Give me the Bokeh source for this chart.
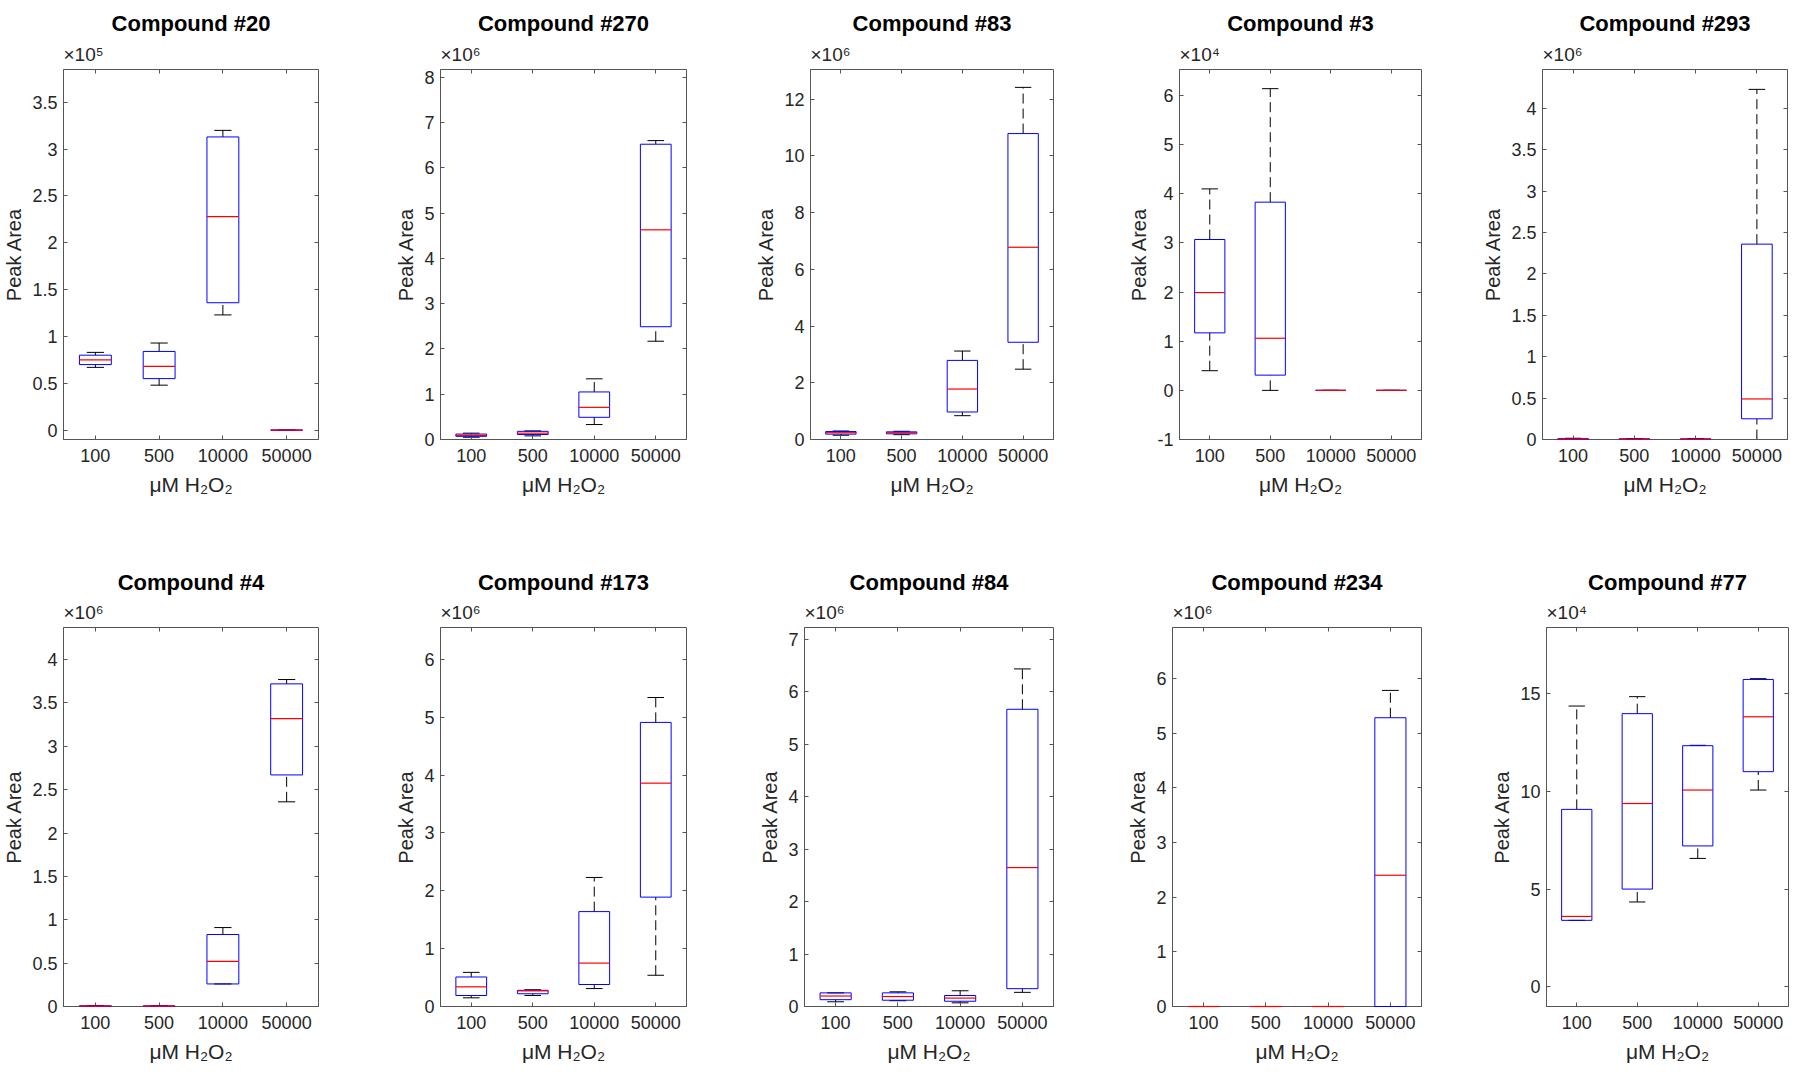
import math
from bokeh.plotting import figure
from bokeh.models import (FactorRange, Range1d, FixedTicker, LinearAxis, CategoricalAxis, Title,
                          CustomJSTickFormatter, CustomLabelingPolicy, ColumnDataSource)
from bokeh.transform import dodge
from bokeh.layouts import row, column
from bokeh.embed import file_html
from bokeh.resources import INLINE

# ---------------- data (five-number summaries: [low whisker, Q1, median, Q3, high whisker]) ----
concs = ["100", "500", "10000", "50000"]

c20 = [[0.67e5, 0.70e5, 0.75e5, 0.80e5, 0.83e5],
       [0.48e5, 0.55e5, 0.68e5, 0.84e5, 0.93e5],
       [1.23e5, 1.36e5, 2.28e5, 3.13e5, 3.20e5],
       [0.0, 0.0, 0.0, 0.0, 0.0]]
c270 = [[0.05e6, 0.07e6, 0.09e6, 0.12e6, 0.14e6],
        [0.08e6, 0.11e6, 0.14e6, 0.18e6, 0.19e6],
        [0.33e6, 0.49e6, 0.71e6, 1.05e6, 1.34e6],
        [2.17e6, 2.49e6, 4.63e6, 6.52e6, 6.60e6]]
c83 = [[0.15e6, 0.19e6, 0.24e6, 0.28e6, 0.30e6],
       [0.17e6, 0.20e6, 0.24e6, 0.27e6, 0.29e6],
       [0.84e6, 0.97e6, 1.78e6, 2.79e6, 3.12e6],
       [2.48e6, 3.43e6, 6.78e6, 10.79e6, 12.42e6]]
c3 = [[0.40e4, 1.17e4, 1.99e4, 3.07e4, 4.10e4],
      [0.0, 0.31e4, 1.06e4, 3.83e4, 6.14e4],
      [0.0, 0.0, 0.0, 0.0, 0.0],
      [0.0, 0.0, 0.0, 0.0, 0.0]]
c293 = [[0.0, 0.002e6, 0.005e6, 0.010e6, 0.015e6],
        [0.0, 0.002e6, 0.004e6, 0.008e6, 0.012e6],
        [0.0, 0.002e6, 0.004e6, 0.008e6, 0.012e6],
        [0.0, 0.25e6, 0.49e6, 2.36e6, 4.23e6]]
c4 = [[0.0, 0.002e6, 0.005e6, 0.008e6, 0.012e6],
      [0.0, 0.002e6, 0.004e6, 0.007e6, 0.010e6],
      [0.26e6, 0.26e6, 0.52e6, 0.83e6, 0.91e6],
      [2.36e6, 2.67e6, 3.32e6, 3.72e6, 3.77e6]]
c173 = [[0.15e6, 0.19e6, 0.34e6, 0.51e6, 0.59e6],
        [0.19e6, 0.22e6, 0.27e6, 0.28e6, 0.29e6],
        [0.31e6, 0.38e6, 0.75e6, 1.64e6, 2.23e6],
        [0.54e6, 1.89e6, 3.86e6, 4.91e6, 5.34e6]]
c84 = [[0.09e6, 0.13e6, 0.20e6, 0.26e6, 0.26e6],
       [0.11e6, 0.12e6, 0.19e6, 0.26e6, 0.28e6],
       [0.07e6, 0.10e6, 0.16e6, 0.21e6, 0.30e6],
       [0.27e6, 0.34e6, 2.65e6, 5.67e6, 6.44e6]]
c234 = [[0.0, 0.0, 0.0, 0.0, 0.0],
        [0.0, 0.0, 0.0, 0.0, 0.0],
        [0.0, 0.0, 0.0, 0.0, 0.0],
        [0.0, 0.0, 2.40e6, 5.28e6, 5.78e6]]
c77 = [[3.41e4, 3.41e4, 3.61e4, 9.09e4, 14.38e4],
       [4.35e4, 5.01e4, 9.39e4, 13.99e4, 14.86e4],
       [6.58e4, 7.22e4, 10.08e4, 12.35e4, 12.37e4],
       [10.08e4, 11.02e4, 13.83e4, 15.74e4, 15.78e4]]

titles = ["Compound #20", "Compound #270", "Compound #83", "Compound #3", "Compound #293",
          "Compound #4", "Compound #173", "Compound #84", "Compound #234", "Compound #77"]
series = [c20, c270, c83, c3, c293, c4, c173, c84, c234, c77]
exponents = [5, 6, 6, 4, 6, 6, 6, 6, 6, 4]
# y axis limits and tick steps (in units of 10^exponent)
ylims = [(-0.1, 3.85), (0, 8.17), (0, 13.05), (-1, 6.53), (0, 4.47),
         (0, 4.37), (0, 6.55), (0, 7.23), (0, 6.93), (-1, 18.4)]
ysteps = [0.5, 1, 2, 1, 0.5, 0.5, 1, 1, 1, 5]
ylabel = "Peak Area"
xlabel = "\u03bcM H\u2082O\u2082"
SUPERS = {"4": "\u2074", "5": "\u2075", "6": "\u2076"}

# ---------------- layout (pixels) ----------------
row_widths = [[365, 370, 369, 363, 325], [365, 364, 368, 374, 321]]
row_left = [[62, 75, 75, 75, 75], [62, 75, 75, 75, 75]]
row_right = [[47, 49, 51, 46, 5], [47, 43, 44, 50, 4]]
row_height = [530, 538]
row_top = [69, 97]
row_bottom = [91, 62]
title_standoff = [12, 10]
title_offset = [-12, -4, 0, -4, -2]

FONT = "Liberation Sans"
AX = "#262626"
FRAME = "#555555"

HIDE_CODE = """
for (const i of Array.from(indices)) indices.unset(i)
return indices
"""


def make_panel(idx, r, c):
    data = series[idx]
    e = exponents[idx]
    scale = 10.0 ** e
    lo, hi = ylims[idx]
    step = ysteps[idx]
    k0 = math.ceil(lo / step - 1e-9)
    k1 = math.floor(hi / step + 1e-9)
    ticks = [round(k * step, 6) * scale for k in range(k0, k1 + 1)]

    p = figure(x_range=FactorRange(factors=concs, range_padding=0),
               y_range=Range1d(lo * scale, hi * scale),
               width=row_widths[r][c], height=row_height[r],
               min_border_left=row_left[r][c], min_border_right=row_right[r][c],
               min_border_top=row_top[r], min_border_bottom=row_bottom[r],
               output_backend="svg", toolbar_location=None, tools="")
    p.xgrid.visible = False
    p.ygrid.visible = False
    p.outline_line_color = FRAME
    p.outline_line_width = 1
    p.background_fill_color = "white"
    p.border_fill_color = "white"

    fmt = CustomJSTickFormatter(args=dict(s=scale),
                                code="const v = Math.round(tick / s * 1000) / 1000; return String(v);")
    yax = p.yaxis[0]
    yax.ticker = FixedTicker(ticks=ticks)
    yax.formatter = fmt
    xax = p.xaxis[0]
    for ax in (xax, yax):
        ax.major_tick_in = 4
        ax.major_tick_out = 0
        ax.minor_tick_in = 0
        ax.minor_tick_out = 0
        ax.major_tick_line_color = FRAME
        ax.axis_line_color = FRAME
        ax.major_label_text_font = FONT
        ax.major_label_text_font_size = "18px"
        ax.major_label_text_color = AX
        ax.axis_label_text_font = FONT
        ax.axis_label_text_font_style = "normal"
        ax.axis_label_text_color = AX
    yax.major_label_standoff = 6
    yax.axis_label = ylabel
    yax.axis_label_text_font_size = "20px"
    yax.axis_label_standoff = 4
    xax.major_label_standoff = 9
    xax.axis_label = xlabel
    xax.axis_label_text_font_size = "21px"
    xax.axis_label_standoff = 8

    # ticks on the top and right edges (box on), labels suppressed
    top = CategoricalAxis(major_tick_in=4, major_tick_out=0,
                          major_label_text_font_size="1px", major_label_standoff=0,
                          major_label_policy=CustomLabelingPolicy(code=HIDE_CODE),
                          axis_line_color=None, major_tick_line_color=FRAME)
    right = LinearAxis(ticker=FixedTicker(ticks=ticks), formatter=fmt,
                       major_tick_in=4, major_tick_out=0, minor_tick_in=0, minor_tick_out=0,
                       major_label_text_font_size="1px", major_label_standoff=0,
                       major_label_policy=CustomLabelingPolicy(code=HIDE_CODE),
                       axis_line_color=None, major_tick_line_color=FRAME)
    p.add_layout(top, "above")
    p.add_layout(right, "right")

    # exponent (x10^n) and title
    p.add_layout(Title(text="\u00d710" + SUPERS[str(e)], align="left", text_font=FONT,
                       text_font_size="19px", text_font_style="normal", text_color=AX,
                       standoff=1, offset=0), "above")
    p.add_layout(Title(text=titles[idx], align="center", text_font=FONT,
                       text_font_size="22px", text_font_style="bold", text_color="black",
                       standoff=title_standoff[r], offset=title_offset[c]), "above")

    src = ColumnDataSource(dict(
        cat=concs,
        lo=[d[0] for d in data], q1=[d[1] for d in data], med=[d[2] for d in data],
        q3=[d[3] for d in data], hi=[d[4] for d in data]))

    # whiskers (dashed black)
    p.segment(x0="cat", x1="cat", y0="q3", y1="hi", source=src,
              line_color="black", line_width=1, line_dash="10 5")
    p.segment(x0="cat", x1="cat", y0="lo", y1="q1", source=src,
              line_color="black", line_width=1, line_dash="10 5")
    # caps
    for col in ("lo", "hi"):
        p.segment(x0=dodge("cat", -0.135, range=p.x_range), x1=dodge("cat", 0.135, range=p.x_range),
                  y0=col, y1=col, source=src, line_color="black", line_width=1)
    # boxes
    p.vbar(x="cat", width=0.5, bottom="q1", top="q3", source=src,
           fill_color=None, line_color="#0000ff", line_width=1, level="overlay")
    # medians
    p.segment(x0=dodge("cat", -0.25, range=p.x_range), x1=dodge("cat", 0.25, range=p.x_range),
              y0="med", y1="med", source=src, line_color="#ff0000", line_width=1.2,
              level="overlay")
    return p


rows = []
for r in range(2):
    figs = [make_panel(r * 5 + c, r, c) for c in range(5)]
    rows.append(row(*figs, spacing=0))
layout = column(*rows, spacing=0)

open("out.html", "w").write(file_html(layout, INLINE))
